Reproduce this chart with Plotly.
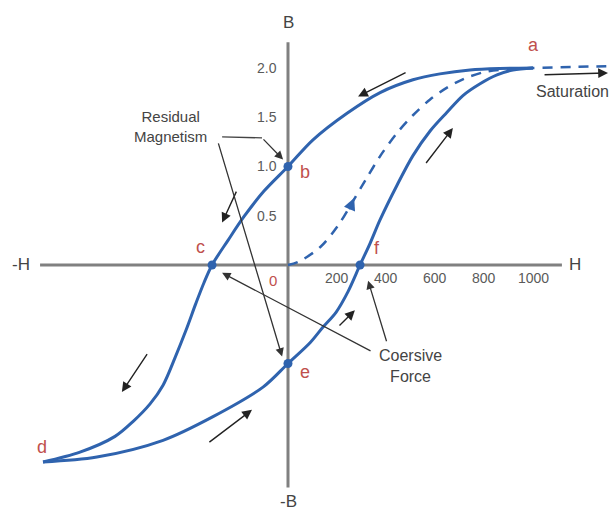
import plotly.graph_objects as go

# Hysteresis loop of a ferromagnetic material (H in A/m, B in tesla)
# Upper branch: from saturation a, through b and c, down to d
upper_H = [1000, 865, 743, 620, 510, 376, 241, 102, 0, -98, -180, -245, -310,
           -343, -376, -416, -461, -510, -563, -633, -706, -849, -1000]
upper_B = [2.0, 1.995, 1.98, 1.94, 1.88, 1.75, 1.54, 1.27, 1.0, 0.75, 0.49,
           0.25, 0.0, -0.18, -0.39, -0.66, -0.94, -1.22, -1.41, -1.59, -1.74,
           -1.90, -2.0]

# Lower branch: from d, through e and f, back up to a
lower_H = [-1000, -780, -510, -306, -102, 0, 90, 143, 196, 245, 294, 335, 376,
           445, 510, 580, 649, 714, 784, 853, 918, 1000]
lower_B = [-2.0, -1.95, -1.78, -1.54, -1.24, -1.0, -0.79, -0.63, -0.48, -0.27,
           0.0, 0.22, 0.46, 0.81, 1.11, 1.36, 1.55, 1.72, 1.84, 1.93, 1.98, 2.0]

# Initial magnetisation curve, continuing into saturation
init_H = [0, 41, 131, 204, 261, 318, 380, 445, 510, 580, 649, 718, 804, 906,
          1000, 1160, 1322]
init_B = [0.0, 0.03, 0.18, 0.40, 0.63, 0.87, 1.12, 1.34, 1.52, 1.68, 1.80,
          1.89, 1.96, 1.99, 2.0, 2.01, 2.02]

# Marked points b, c, e, f
key_H = [0, -310, 0, 294]
key_B = [1.0, 0.0, -1.0, 0.0]

point_names = ["a", "b", "c", "d", "e", "f"]
name_H = [1000, 69, -359, -1004, 69, 363]
name_B = [2.23, 0.94, 0.18, -1.85, -1.09, 0.17]

h_ticks = [200, 400, 600, 800, 1000]
b_ticks = [2.0, 1.5, 1.0, 0.5]

BLUE = "#2f63ae"
RED = "#c0504d"
GRAY = "#808080"
TXT = "#5a5a5a"
FONT = "Liberation Sans, Arial, sans-serif"

fig = go.Figure()

# Axes through the origin
fig.add_shape(type="line", x0=-1012, x1=1118, y0=0, y1=0,
              line=dict(color=GRAY, width=3), layer="below")
fig.add_shape(type="line", x0=0, x1=0, y0=2.26, y1=-2.26,
              line=dict(color=GRAY, width=3), layer="below")

fig.add_trace(go.Scatter(x=init_H, y=init_B, mode="lines",
                         line=dict(color=BLUE, width=2.5, dash="10px,8px",
                                   shape="spline", smoothing=0.9),
                         hoverinfo="skip"))
fig.add_trace(go.Scatter(x=upper_H, y=upper_B, mode="lines",
                         line=dict(color=BLUE, width=3, shape="spline",
                                   smoothing=0.9),
                         hoverinfo="skip"))
fig.add_trace(go.Scatter(x=lower_H, y=lower_B, mode="lines",
                         line=dict(color=BLUE, width=3, shape="spline",
                                   smoothing=0.9),
                         hoverinfo="skip"))

# Callout leader line from the "Residual Magnetism" label
fig.add_trace(go.Scatter(x=[-269, -106], y=[1.30, 1.29], mode="lines",
                         line=dict(color="#444444", width=1.3),
                         hoverinfo="skip"))

fig.add_trace(go.Scatter(x=key_H, y=key_B, mode="markers",
                         marker=dict(color=BLUE, size=9),
                         hoverinfo="skip"))

annotations = []

# Tick labels
for h in h_ticks:
    annotations.append(dict(x=h, y=-0.13, text=str(h), showarrow=False,
                            font=dict(size=14, color=TXT, family=FONT)))
for b in b_ticks:
    annotations.append(dict(x=-38, y=b, text=f"{b:.1f}", showarrow=False,
                            xanchor="right",
                            font=dict(size=14, color=TXT, family=FONT)))

# Axis names
for txt, x, y in [("B", 0, 2.46), ("-B", 0, -2.40), ("H", 1171, 0.0),
                  ("-H", -1090, 0.0)]:
    annotations.append(dict(x=x, y=y, text=txt, showarrow=False,
                            font=dict(size=17, color="#444444", family=FONT)))

# Point letters
for name, x, y in zip(point_names, name_H, name_B):
    annotations.append(dict(x=x, y=y, text=name, showarrow=False,
                            font=dict(size=18, color=RED, family=FONT)))
annotations.append(dict(x=-61, y=-0.16, text="0", showarrow=False,
                        font=dict(size=15, color=RED, family=FONT)))

# Direction arrows along the loop
loop_arrows = [
    ((486, 1.96), (286, 1.71)),
    ((-208, 0.76), (-269, 0.43)),
    ((-571, -0.89), (-678, -1.29)),
    ((-327, -1.81), (-147, -1.47)),
    ((204, -0.63), (273, -0.46)),
    ((559, 1.02), (673, 1.39)),
    ((1041, 1.93), (1306, 1.95)),
]
for (tx, ty), (hx, hy) in loop_arrows:
    annotations.append(dict(x=hx, y=hy, ax=tx, ay=ty, xref="x", yref="y",
                            axref="x", ayref="y", text="", showarrow=True,
                            arrowhead=2, arrowsize=1.4, arrowwidth=1.4,
                            arrowcolor="#222222"))

# Small arrowhead on the initial curve
annotations.append(dict(x=270, y=0.68, ax=248, ay=0.55, xref="x", yref="y",
                        axref="x", ayref="y", text="", showarrow=True,
                        arrowhead=2, arrowsize=1.2, arrowwidth=2,
                        arrowcolor=BLUE))

# Callout arrows
callouts = [
    ((-106, 1.29), (-20, 1.07)),
    ((-286, 1.25), (-24, -0.93)),
    ((343, -0.88), (-269, -0.08)),
    ((404, -0.79), (327, -0.16)),
]
for (tx, ty), (hx, hy) in callouts:
    annotations.append(dict(x=hx, y=hy, ax=tx, ay=ty, xref="x", yref="y",
                            axref="x", ayref="y", text="", showarrow=True,
                            arrowhead=2, arrowsize=1.3, arrowwidth=1.3,
                            arrowcolor="#333333"))

annotations.append(dict(x=-480, y=1.41, text="Residual<br>Magnetism",
                        showarrow=False, align="center",
                        font=dict(size=15, color="#444444", family=FONT)))
annotations.append(dict(x=500, y=-1.03, text="Coersive<br>Force",
                        showarrow=False, align="center",
                        font=dict(size=16, color="#444444", family=FONT)))
annotations.append(dict(x=1005, y=1.76, text="Saturation", showarrow=False,
                        xanchor="left",
                        font=dict(size=16, color="#444444", family=FONT)))

fig.update_layout(
    width=612, height=514, autosize=False,
    margin=dict(l=0, r=0, t=0, b=0),
    paper_bgcolor="white", plot_bgcolor="white",
    showlegend=False,
    xaxis=dict(range=[-1175.5, 1322.4], visible=False, fixedrange=True),
    yaxis=dict(range=[-2.528, 2.690], visible=False, fixedrange=True),
    annotations=annotations,
)

fig.write_html("out.html")
